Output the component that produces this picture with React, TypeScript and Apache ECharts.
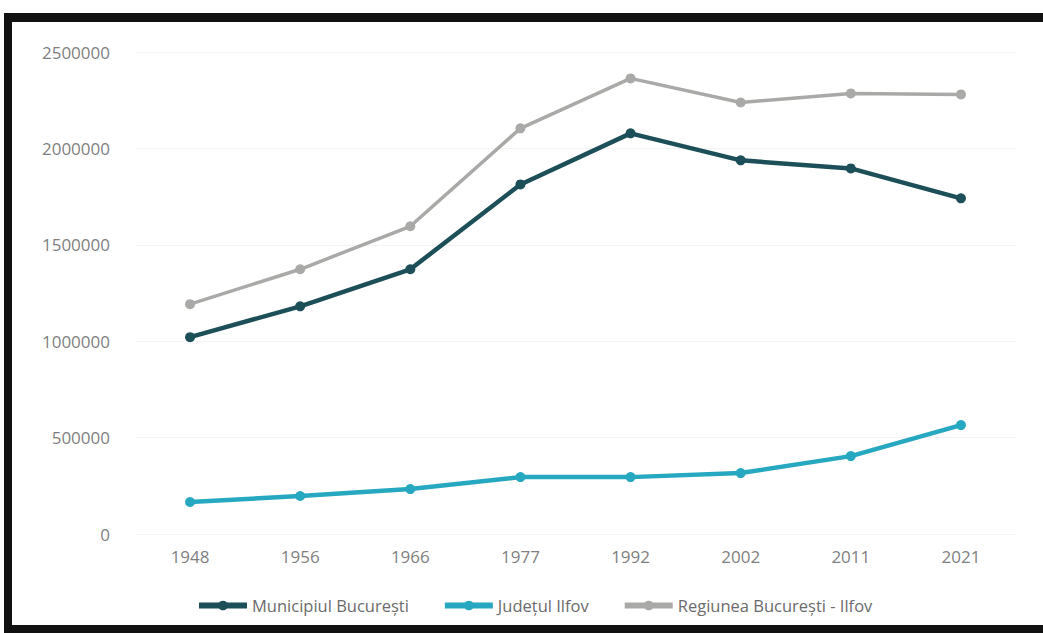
import React, { useEffect, useRef } from "react";
import * as echarts from "echarts";

const years = ["1948", "1956", "1966", "1977", "1992", "2002", "2011", "2021"];
const municipiul = [1021000, 1181000, 1373000, 1813000, 2078000, 1938000, 1896000, 1741000];
const ilfov = [166000, 197000, 233000, 295000, 295000, 316000, 404000, 565000];
const regiunea = [1192000, 1373000, 1596000, 2104000, 2363000, 2238000, 2285000, 2280000];
const seriesNames = ["Municipiul București", "Județul Ilfov", "Regiunea București - Ilfov"];

export default function App() {
  const ref = useRef<HTMLDivElement>(null);
  useEffect(() => {
    if (!ref.current) return;
    const chart = echarts.init(ref.current, null, { renderer: "svg" });
    const mk = (name: string, data: number[], color: string, width: number) => ({
      name,
      type: "line",
      data,
      symbol: "circle",
      symbolSize: 10,
      lineStyle: { color, width },
      itemStyle: { color },
    });
    chart.setOption({
      animation: false,
      backgroundColor: "#ffffff",
      grid: { left: 135, right: 27, top: 52, bottom: 99 },
      xAxis: {
        type: "category",
        data: years,
        boundaryGap: true,
        axisLine: { show: false },
        axisTick: { show: false },
        axisLabel: { color: "#7f7f7f", fontSize: 17, fontFamily: "'Open Sans', sans-serif", margin: 14 },
      },
      yAxis: {
        type: "value",
        min: 0,
        max: 2500000,
        interval: 500000,
        axisLine: { show: false },
        axisTick: { show: false },
        axisLabel: {
          color: "#7f7f7f",
          fontSize: 17,
          fontFamily: "'Open Sans', sans-serif",
          margin: 25,
          formatter: (v: number) => String(v),
        },
        splitLine: { lineStyle: { color: "#f3f3f3", width: 1 } },
      },
      legend: {
        left: 191,
        top: 592,
        itemWidth: 48,
        itemHeight: 12,
        itemGap: 33,
        lineStyle: { width: 6 },
        textStyle: { color: "#6b6b6b", fontSize: 16.5, fontFamily: "'Open Sans', sans-serif" },
        data: seriesNames,
      },
      graphic: [
        { type: "rect", shape: { x: 4, y: 13, width: 8, height: 620 }, style: { fill: "#111111" } },
        { type: "rect", shape: { x: 4, y: 13, width: 1039, height: 9 }, style: { fill: "#111111" } },
        { type: "rect", shape: { x: 4, y: 625, width: 1039, height: 8 }, style: { fill: "#111111" } },
      ],
      series: [
        mk(seriesNames[0], municipiul, "#1d4f58", 4.5),
        mk(seriesNames[1], ilfov, "#26a8c0", 4.5),
        mk(seriesNames[2], regiunea, "#a9a9a7", 3.5),
      ],
    });
    return () => chart.dispose();
  }, []);
  return (
    <div
      ref={ref}
      style={{ position: "fixed", left: 0, top: 0, width: 1043, height: 633 }}
    />
  );
}
